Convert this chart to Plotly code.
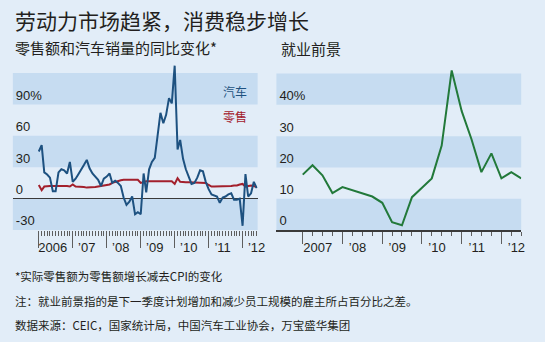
import pandas as pd
import plotly.graph_objects as go

# ---------------- data ----------------
# Left panel: year-on-year % change, monthly Jan 2006 - Jun 2012
car_sales = [
    45, 51, 25, 23, 20, 7, 7, 25, 28, 27, 24, 35,          # 2006
    16, 19, 23, 27, 32, 37, 29, 24, 21, 18, 12, 19,        # 2007
    21, 24, 15, 17, 15, 12, 1, -6, -3, 2, -15, -13,        # 2008
    -15, 24, 6, 28, 35, 39, 60, 82, 72, 80, 96, 91,        # 2009
    127, 47, 56, 38, 28, 20, 14, 15, 20, 27, 26, 16,       # 2010
    9, 4, 3, 2, -4, 1, 2, 4, 5, -1, -1, 0,                 # 2011
    -26, 23.5, 2, 5, 16, 10,                               # 2012
]
retail_sales = [
    13, 8, 11.5, 12, 12, 12, 12, 12.5, 12, 12, 12, 11.5,
    13.5, 11.5, 11.5, 11, 11, 10.5, 10.5, 10.5, 11, 11.5, 12, 12.5,
    13, 13.5, 15, 16, 17, 17.5, 18, 18, 18.5, 18.5, 18.5, 18,
    15, 16, 16.5, 16.5, 16.5, 17, 17, 17, 16.5, 16.5, 16.5, 16.5,
    14, 19.5, 16, 15.5, 15.5, 15.5, 15.5, 15.5, 15.5, 15.5, 15, 15,
    13, 11.5, 11.5, 11.5, 11.5, 11.5, 11.5, 12, 12, 12.5, 12.5, 13.5,
    14, 11.5, 12, 12.5, 12, 11,
]
months = pd.date_range("2006-01-01", periods=len(car_sales), freq="MS")

# Right panel: employment outlook, quarterly 2007Q1 - 2012Q3
employment_outlook = [
    17.7, 20.7, 17.5, 11.8,
    13.7, 12.7, 11.7, 10.7,
    8.7, 2.5, 1.5, 10.5,
    13.5, 16.5, 27, 51,
    38, 29, 18.5, 24.5,
    16.5, 18.5, 16.5,
]
quarters = pd.date_range("2007-01-01", periods=len(employment_outlook), freq="QS")

left_year_ticks = ["2006-01-01", "2007-01-01", "2008-01-01", "2009-01-01",
                   "2010-01-01", "2011-01-01", "2012-01-01"]
left_year_labels = ["2006", "’07", "’08", "’09", "’10", "’11", "’12"]
right_year_ticks = ["2007-01-01", "2008-01-01", "2009-01-01",
                    "2010-01-01", "2011-01-01", "2012-01-01"]
right_year_labels = ["2007", "’08", "’09", "’10", "’11", "’12"]
left_y_ticks = [-30, 0, 30, 60, 90]
left_y_labels = ["-30", "0", "30", "60", "90%"]
right_y_ticks = [0, 10, 20, 30, 40]
right_y_labels = ["0", "10", "20", "30", "40%"]
left_bands = [(-30, 0), (30, 60), (90, 120)]
right_bands = [(0, 10), (20, 30), (40, 50)]

# ---------------- style ----------------
BG = "#e2edf8"
BAND = "#c6dcf1"
BLUE = "#1d5180"
RED = "#a3202c"
GREEN = "#22793a"
TEXT = "#231f20"
TICK = "#5e5e5e"
CJK = "Noto Sans CJK SC"
NUM = "Liberation Sans"

W, H = 545, 342
LEFT_RANGE = ["2005-03-28", "2012-06-11"]
RIGHT_RANGE = ["2006-05-04", "2012-07-01"]
LEFT_DOM = [13 / W, 261 / W]
RIGHT_DOM = [280 / W, 528 / W]

def px_y(p):
    return 1 - p / H

fig = go.Figure()

fig.add_trace(go.Scatter(x=months, y=retail_sales, mode="lines",
                         line=dict(color=RED, width=2), xaxis="x", yaxis="y",
                         showlegend=False, hoverinfo="skip"))
fig.add_trace(go.Scatter(x=months, y=car_sales, mode="lines",
                         line=dict(color=BLUE, width=2), xaxis="x", yaxis="y",
                         showlegend=False, hoverinfo="skip"))
fig.add_trace(go.Scatter(x=quarters, y=employment_outlook, mode="lines",
                         line=dict(color=GREEN, width=2), xaxis="x2", yaxis="y2",
                         showlegend=False, hoverinfo="skip"))
# empty carriers so the label-only overlay axes get drawn
fig.add_trace(go.Scatter(x=[months[0]], y=[None], mode="lines", xaxis="x3", yaxis="y",
                         showlegend=False, hoverinfo="skip"))
fig.add_trace(go.Scatter(x=[quarters[0]], y=[None], mode="lines", xaxis="x4", yaxis="y2",
                         showlegend=False, hoverinfo="skip"))

shapes = []
for lo, hi in left_bands:
    shapes.append(dict(type="rect", xref="x domain", yref="y", x0=0, x1=1,
                       y0=lo, y1=hi, fillcolor=BAND, line=dict(width=0), layer="below"))
for lo, hi in right_bands:
    shapes.append(dict(type="rect", xref="x2 domain", yref="y2", x0=0, x1=1,
                       y0=lo, y1=hi, fillcolor=BAND, line=dict(width=0), layer="below"))

ydom = [px_y(230), px_y(62)]
tickfont = dict(family=NUM, size=13, color=TEXT)

fig.update_layout(
    width=W, height=H,
    margin=dict(l=0, r=0, t=0, b=0),
    paper_bgcolor=BG, plot_bgcolor=BG,
    shapes=shapes,
    # ---- left panel: tick marks ----
    xaxis=dict(
        domain=LEFT_DOM, type="date", range=LEFT_RANGE, anchor="y",
        tickmode="array", tickvals=left_year_ticks, showticklabels=False,
        ticks="outside", ticklen=17, tickwidth=1, tickcolor=TICK,
        showgrid=False, showline=False, zeroline=False,
        minor=dict(tickmode="array",
                   tickvals=list(pd.date_range("2006-01-01", "2012-06-01", freq="MS")),
                   ticks="outside", ticklen=5, tickwidth=1, tickcolor=TICK, showgrid=False),
        fixedrange=True,
    ),
    # ---- left panel: year labels ----
    xaxis3=dict(
        overlaying="x", anchor="y", side="bottom", type="date", range=LEFT_RANGE,
        tickmode="array", tickvals=left_year_ticks, ticktext=left_year_labels,
        ticks="", ticklabelshift=14, ticklabelstandoff=8, tickfont=tickfont,
        showgrid=False, showline=False, zeroline=False, fixedrange=True,
    ),
    # y labels drawn to the right of a free axis placed on the left edge
    yaxis=dict(
        domain=ydom, range=[-30, 130.5], anchor="free", position=LEFT_DOM[0],
        side="right",
        tickmode="array", tickvals=left_y_ticks, ticktext=left_y_labels,
        ticks="", ticklabelposition="outside top", ticklabelstandoff=2,
        tickfont=tickfont, showgrid=False, showline=False,
        zeroline=True, zerolinecolor="#3a3a3a", zerolinewidth=1,
        fixedrange=True,
    ),
    # ---- right panel ----
    xaxis2=dict(
        domain=RIGHT_DOM, type="date", anchor="y2", range=RIGHT_RANGE,
        tickmode="array", tickvals=right_year_ticks, showticklabels=False,
        ticks="outside", ticklen=12, tickwidth=1, tickcolor=TICK,
        showgrid=False, showline=True, linecolor="#3a3a3a", linewidth=1.5,
        zeroline=False,
        minor=dict(tickmode="array",
                   tickvals=list(pd.date_range("2007-01-01", "2012-07-01", freq="QS")),
                   ticks="outside", ticklen=4, tickwidth=1, tickcolor=TICK, showgrid=False),
        fixedrange=True,
    ),
    xaxis4=dict(
        overlaying="x2", anchor="y2", side="bottom", type="date", range=RIGHT_RANGE,
        tickmode="array", tickvals=right_year_ticks, ticktext=right_year_labels,
        ticks="", ticklabelshift=15, ticklabelstandoff=8, tickfont=tickfont,
        showgrid=False, showline=False, zeroline=False, fixedrange=True,
    ),
    yaxis2=dict(
        domain=ydom, range=[0, 53.7], anchor="free", position=RIGHT_DOM[0],
        side="right",
        tickmode="array", tickvals=right_y_ticks, ticktext=right_y_labels,
        ticks="", ticklabelposition="outside top", ticklabelstandoff=2,
        tickfont=tickfont, showgrid=False, showline=False, zeroline=False,
        fixedrange=True,
    ),
)

annotations = [
    dict(text="劳动力市场趋紧，消费稳步增长", x=13 / W, y=px_y(20),
         font=dict(family=CJK, size=21, color=TEXT)),
    dict(text="零售额和汽车销量的同比变化*", x=13 / W, y=px_y(47),
         font=dict(family=CJK, size=15, color=TEXT)),
    dict(text="就业前景", x=283 / W, y=px_y(49),
         font=dict(family=CJK, size=15, color=TEXT)),
    dict(text="*实际零售额为零售额增长减去CPI的变化", x=13 / W, y=px_y(276),
         font=dict(family=CJK, size=11.5, color=TEXT)),
    dict(text="注：就业前景指的是下一季度计划增加和减少员工规模的雇主所占百分比之差。",
         x=13 / W, y=px_y(300.5), font=dict(family=CJK, size=11.5, color=TEXT)),
    dict(text="数据来源：CEIC，国家统计局，中国汽车工业协会，万宝盛华集团",
         x=13 / W, y=px_y(324.5), font=dict(family=CJK, size=11.5, color=TEXT)),
]
for a in annotations:
    a.update(xref="paper", yref="paper", xanchor="left", yanchor="middle",
             showarrow=False)

annotations += [
    dict(text="汽车", xref="x domain", yref="y", x=0.907, y=102,
         xanchor="center", yanchor="middle", showarrow=False,
         font=dict(family=CJK, size=12, color=BLUE)),
    dict(text="零售", xref="x domain", yref="y", x=0.907, y=78,
         xanchor="center", yanchor="middle", showarrow=False,
         font=dict(family=CJK, size=12, color=RED)),
]
fig.update_layout(annotations=annotations)

fig.write_html("out.html")
